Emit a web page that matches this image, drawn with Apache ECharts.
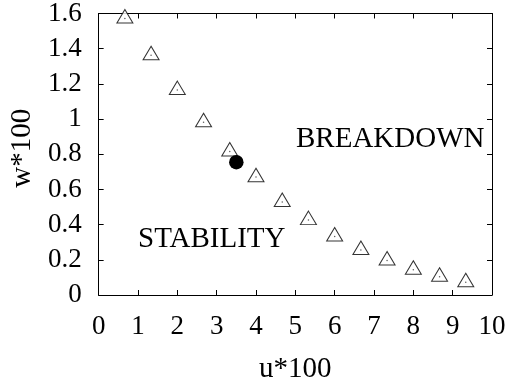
<!DOCTYPE html>
<html>
<head>
<meta charset="utf-8">
<script src="https://cdn.jsdelivr.net/npm/echarts@6/dist/echarts.min.js"></script>
<style>
  html, body { margin: 0; padding: 0; background: #fff; }
  #chart { width: 512px; height: 389px; }
</style>
</head>
<body>
<div id="chart"></div>
<script>
// Stability boundary: critical w for each u (both scaled by 100)
var uValues = [0.667, 1.333, 2.0, 2.667, 3.333, 4.0, 4.667, 5.333, 6.0, 6.667, 7.333, 8.0, 8.667, 9.333];
var wValues = [1.572, 1.363, 1.165, 0.982, 0.816, 0.670, 0.529, 0.426, 0.333, 0.256, 0.196, 0.144, 0.104, 0.073];

// Single operating point
var pointU = [3.5];
var pointW = [0.755];

var xTicks = [0, 1, 2, 3, 4, 5, 6, 7, 8, 9, 10];
var yTicks = [0, 0.2, 0.4, 0.6, 0.8, 1, 1.2, 1.4, 1.6];

var FONT = 'Liberation Serif';

var boundary = uValues.map(function (u, i) { return [u, wValues[i]]; });
var operating = pointU.map(function (u, i) { return [u, pointW[i]]; });

var chart = echarts.init(document.getElementById('chart'), null, { renderer: 'canvas' });

function xAxisDef(pos, showLabels) {
  return {
    type: 'value', position: pos, min: xTicks[0], max: xTicks[xTicks.length - 1], interval: 1,
    axisLine: { show: true, onZero: false, lineStyle: { color: '#000', width: 1 } },
    axisTick: { show: true, inside: true, length: 5, lineStyle: { color: '#000', width: 1 } },
    axisLabel: { show: showLabels, color: '#000', fontFamily: FONT, fontSize: 27, margin: 18 },
    splitLine: { show: false }
  };
}
function yAxisDef(pos, showLabels) {
  return {
    type: 'value', position: pos, min: yTicks[0], max: yTicks[yTicks.length - 1], interval: 0.2,
    axisLine: { show: true, onZero: false, lineStyle: { color: '#000', width: 1 } },
    axisTick: { show: true, inside: true, length: 5, lineStyle: { color: '#000', width: 1 } },
    axisLabel: { show: showLabels, color: '#000', fontFamily: FONT, fontSize: 27, margin: 17 },
    splitLine: { show: false }
  };
}

var xBottom = xAxisDef('bottom', true);
xBottom.name = 'u*100';
xBottom.nameLocation = 'middle';
xBottom.nameGap = 60;
xBottom.nameTextStyle = { color: '#000', fontFamily: FONT, fontSize: 29 };

var yLeft = yAxisDef('left', true);
yLeft.name = 'w*100';
yLeft.nameLocation = 'middle';
yLeft.nameGap = 58;
yLeft.nameTextStyle = { color: '#000', fontFamily: FONT, fontSize: 29, padding: [0, 0, 0, 12] };

chart.setOption({
  animation: false,
  backgroundColor: '#fff',
  grid: { left: 97, right: 20, top: 13, bottom: 94, containLabel: false },
  xAxis: [xBottom, xAxisDef('top', false)],
  yAxis: [yLeft, yAxisDef('right', false)],
  graphic: [
    { type: 'text', left: 296, top: 125,
      style: { text: 'BREAKDOWN', font: '29px "Liberation Serif"', fill: '#000' } },
    { type: 'text', left: 138, top: 225,
      style: { text: 'STABILITY', font: '29px "Liberation Serif"', fill: '#000' } }
  ],
  series: [
    {
      type: 'scatter', xAxisIndex: 0, yAxisIndex: 0, data: boundary,
      symbol: 'triangle', symbolSize: [16, 13.5], symbolOffset: [0, -2.2],
      itemStyle: { color: '#fff', borderColor: '#000', borderWidth: 1 }
    },
    {
      type: 'scatter', xAxisIndex: 0, yAxisIndex: 0, data: boundary,
      symbol: 'circle', symbolSize: 1.5,
      itemStyle: { color: '#333' }
    },
    {
      type: 'scatter', xAxisIndex: 0, yAxisIndex: 0, data: operating,
      symbol: 'circle', symbolSize: 14.5,
      itemStyle: { color: '#000', opacity: 1 }
    }
  ]
});
</script>
</body>
</html>
